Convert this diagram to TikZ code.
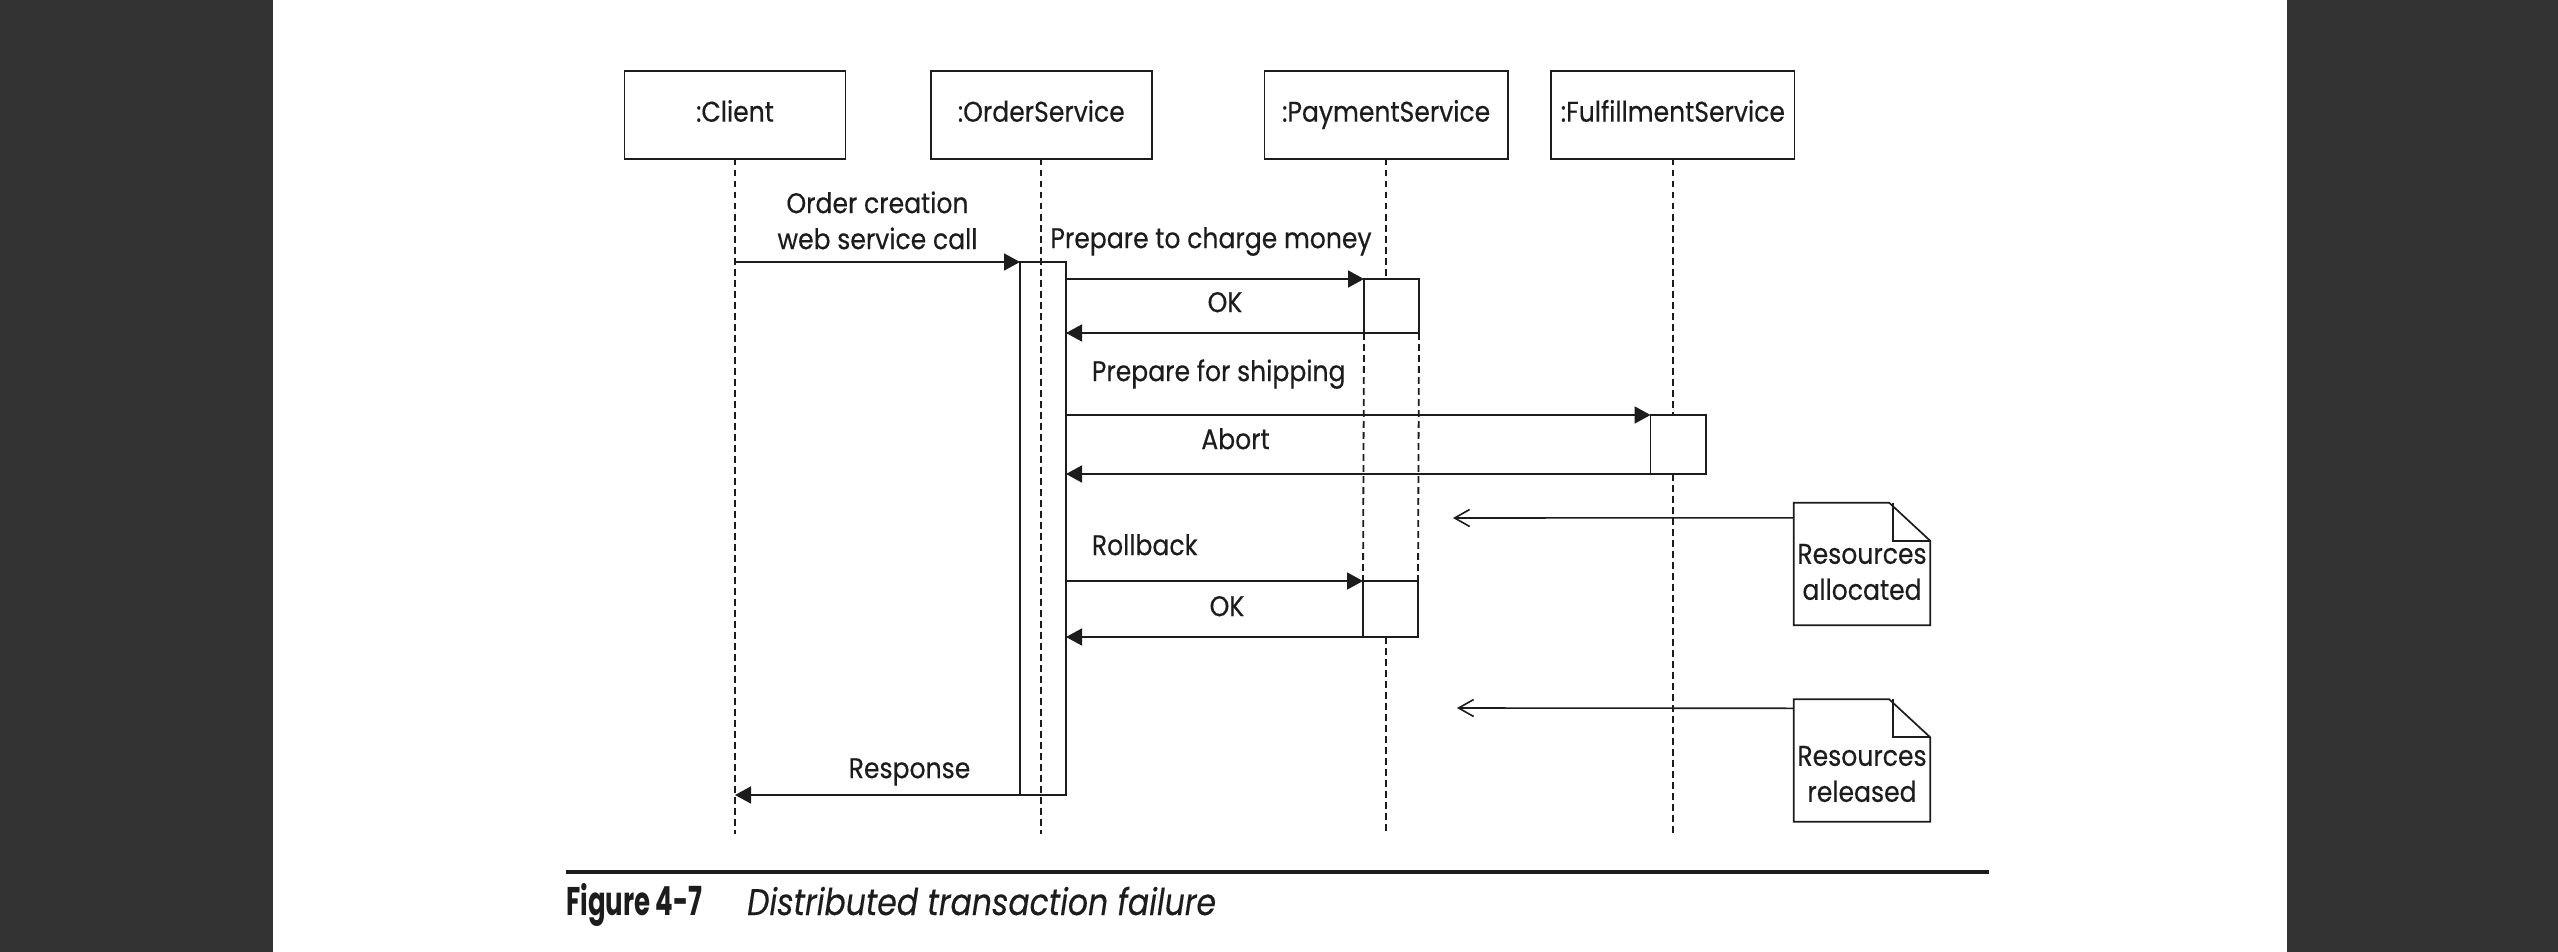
\documentclass[tikz,border=0pt]{standalone}
\usepackage{fontspec}
\setmainfont[FakeStretch=0.88, FakeBold=0.35]{Poppins}
\newfontfamily\fignumfont[FakeStretch=0.65]{Poppins}
\newfontfamily\figtitlefont[FakeStretch=0.85, FakeBold=0.3]{Poppins}
\usetikzlibrary{arrows.meta, positioning}

\definecolor{ink}{HTML}{1C1C1C}
\definecolor{pagegrey}{HTML}{333333}
\newcommand{\diagfont}{\fontsize{28.5}{36}\selectfont}

\tikzstyle{actor} = [rectangle, draw, line width=1.8pt, outer sep=0pt, minimum width=221pt, minimum height=88pt, text height=20pt, text depth=6pt, font=\diagfont]
\tikzstyle{wide} = [minimum width=243.3pt]
\tikzstyle{act} = [rectangle, draw, line width=1.8pt, outer sep=0pt, minimum width=55pt, inner sep=0pt]
\tikzstyle{life} = [draw, line width=1.8pt, dash pattern=on 6.8pt off 4.2pt]
\tikzstyle{msg} = [draw, line width=1.7pt, -{Triangle[length=16pt, width=17pt]}]
\tikzstyle{hint} = [draw, line width=1.6pt, -{Straight Barb[length=15pt, width=17pt]}]
\tikzstyle{lbl} = [inner sep=0pt, anchor=south, text depth=0pt, align=center, font=\diagfont]
\tikzstyle{note} = [rectangle, minimum width=136pt, minimum height=122pt, inner sep=0pt]
\tikzstyle{notebox} = [draw, line width=1.7pt, line join=miter]
\tikzstyle{notetext} = [inner sep=0pt, align=center, font=\diagfont]

\begin{document}
\begin{tikzpicture}[x=1pt, y=-1pt, color=ink]
    \useasboundingbox (0,0) rectangle (2558,952);
    \fill[pagegrey] (0,0) rectangle (2558,952);
    \fill[white] (273,0) rectangle (2287,952);

    % participants
    \node[actor](client) at (735,114.7){:Client};
    \node[actor, right=85.3pt of client](order){:OrderService};
    \node[actor, wide, right=112.7pt of order](payment){:PaymentService};
    \node[actor, wide, right=43.4pt of payment](fulfil){:FulfillmentService};

    % activations
    \node[act, minimum width=46pt, minimum height=533pt](oact) at (1043,528.5){};
    \node[act, minimum height=54pt](pact1) at (1391.5,306){};
    \node[act, minimum width=55.5pt, minimum height=59pt](fact) at (1678.3,444.5){};
    \node[act, minimum height=56pt](pact2) at (1390.5,609){};

    % lifelines
    \coordinate (clientend) at (client.south |- 0,834);
    \coordinate (orderend) at (order.south |- 0,834);
    \coordinate (paymentend) at (payment.south |- 0,834);
    \coordinate (fulfilend) at (fulfil.south |- 0,834);
    \path[life] (client.south) -- (clientend);
    \path[life] (order.south) -- (orderend);
    \path[life] (payment.south) -- (payment.south |- pact1.north);
    \path[life] (pact1.south west) -- (pact2.north west);
    \path[life] (pact1.south east) -- (pact2.north east);
    \path[life] (payment.south |- pact2.south) -- (paymentend);
    \path[life] (fulfil.south) -- (fulfil.south |- fact.north);
    \path[life] (fulfil.south |- fact.south) -- (fulfilend);

    % messages
    \path[msg] (client.south |- oact.north) -- node[lbl, yshift=12pt] {Order creation\\web service call} (oact.north west);
    \path[msg] (oact.east |- pact1.north) -- node[lbl, xshift=-4pt, yshift=30pt] {Prepare to charge money} (pact1.north west);
    \path[msg] (pact1.south west) -- node[lbl, xshift=10pt, yshift=20pt] {OK} (oact.east |- pact1.south);
    \path[msg] (oact.east |- fact.north) -- node[lbl, at start, anchor=south west, xshift=25pt, yshift=33pt] {Prepare for shipping} (fact.north west);
    \path[msg] (fact.south west) -- node[lbl, pos=0.71, yshift=24pt] {Abort} (oact.east |- fact.south);
    \path[msg] (oact.east |- pact2.north) -- node[lbl, at start, anchor=south west, xshift=25pt, yshift=25pt] {Rollback} (pact2.north west);
    \path[msg] (pact2.south west) -- node[lbl, xshift=12.5pt, yshift=20pt] {OK} (oact.east |- pact2.south);
    \path[msg] (oact.south west) -- node[lbl, xshift=32pt, yshift=16pt] {Response} (client.south |- oact.south);

    % notes
    \node[note](alloc) at (1862,564){};
    \path[notebox] (alloc.north west) -- ([xshift=-41pt]alloc.north east) -- ([yshift=-38pt]alloc.north east) -- (alloc.south east) -- (alloc.south west) -- cycle;
    \path[notebox] ([xshift=-37pt]alloc.north east) -- ([xshift=-37pt, yshift=-38pt]alloc.north east) -- ([yshift=-38pt]alloc.north east);
    \node[notetext](alloctext) at ([yshift=-8pt]alloc.center){Resources\\allocated};
    \coordinate (allocpoint) at (1453,518);
    \path[hint] ([yshift=-15pt]alloc.north west) -- (allocpoint);

    \node[note](freed) at (1862,760.5){};
    \path[notebox] (freed.north west) -- ([xshift=-41pt]freed.north east) -- ([yshift=-38pt]freed.north east) -- (freed.south east) -- (freed.south west) -- cycle;
    \path[notebox] ([xshift=-37pt]freed.north east) -- ([xshift=-37pt, yshift=-38pt]freed.north east) -- ([yshift=-38pt]freed.north east);
    \node[notetext](freedtext) at ([yshift=-13.5pt]freed.center){Resources\\released};
    \coordinate (freedpoint) at (1457,708);
    \path[hint] ([yshift=-9pt]freed.north west) -- (freedpoint);

    % caption
    \draw[line width=4pt] (566,871.7) -- (1989,871.7);
    \node[anchor=base west, inner sep=0pt, font=\fignumfont\bfseries\fontsize{40}{40}\selectfont](fignum) at (566,915){Figure 4-7};
    \node[anchor=base west, inner sep=0pt, font=\figtitlefont\itshape\fontsize{37}{40}\selectfont](figtitle) at (747,915){Distributed transaction failure};
\end{tikzpicture}
\end{document}
